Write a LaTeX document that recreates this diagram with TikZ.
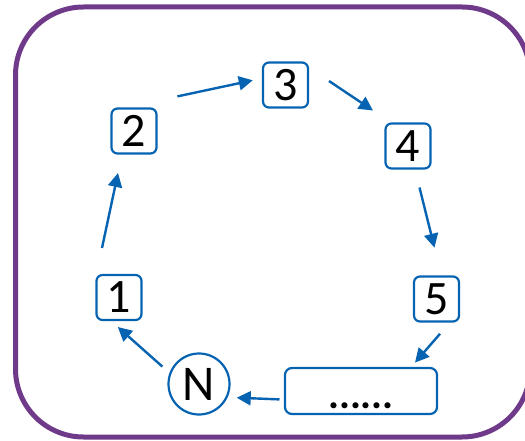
\documentclass[tikz,border=0pt]{standalone}
\usepackage{fontspec}
\setmainfont{Carlito}
\usetikzlibrary{arrows.meta}
\definecolor{framepurple}{RGB}{112,58,138}
\definecolor{linkblue}{RGB}{5,99,178}
\begin{document}
\begin{tikzpicture}[x=1pt,y=-1pt,
  numbox/.style={draw=linkblue,line width=2.2pt,rounded corners=6pt,
    minimum width=45pt,minimum height=45pt,inner sep=0pt,
    font=\fontsize{48}{50}\selectfont},
  endcircle/.style={draw=linkblue,line width=2.2pt,circle,
    minimum size=61pt,inner sep=0pt,font=\fontsize{50}{52}\selectfont},
  gapbox/.style={draw=linkblue,line width=2.2pt,rounded corners=7pt,
    minimum width=152pt,minimum height=46pt,inner sep=0pt,
    text height=34pt,text depth=0pt,font=\bfseries\fontsize{41}{44}\selectfont},
  flow/.style={draw=linkblue,line width=2.4pt,
    -{Triangle[length=14pt,width=14pt]}}]
\useasboundingbox (0,0) rectangle (525,441);
% outer frame
\draw[framepurple,line width=5pt,rounded corners=68pt]
  (15.5,7) rectangle (530,437);
% cycle members
\node[numbox] (n1) at (119,297.5) {1};
\node[numbox] (n2) at (134,131) {2};
\node[numbox] (n3) at (285.5,85) {3};
\node[numbox] (n4) at (408,146) {4};
\node[numbox] (n5) at (436.5,299) {5};
\node[gapbox] (nd) at (361,391) {......};
\node[endcircle] (nN) at (199,384) {N};
% links around the cycle
\draw[flow] ([shift={(-17,-49.5)}]n1.center) -- ([shift={(-16,42)}]n2.center);
\draw[flow] ([shift={(43.4,-34.6)}]n2.center) -- ([shift={(-32.7,-4.7)}]n3.center);
\draw[flow] ([shift={(43.5,-4)}]n3.center) -- ([shift={(-35,-35.5)}]n4.center);
\draw[flow] ([shift={(11.5,41.5)}]n4.center) -- ([shift={(-2,-51.3)}]n5.center);
\draw[flow] ([shift={(3.5,34.8)}]n5.center) -- ([shift={(54,-28.4)}]nd.center);
\draw[flow] ([shift={(-81.5,8.4)}]nd.center) -- ([shift={(37.7,13.7)}]nN.center);
\draw[flow] ([shift={(-36.6,-17.4)}]nN.center) -- ([shift={(-1.2,29.5)}]n1.center);
\end{tikzpicture}
\end{document}
